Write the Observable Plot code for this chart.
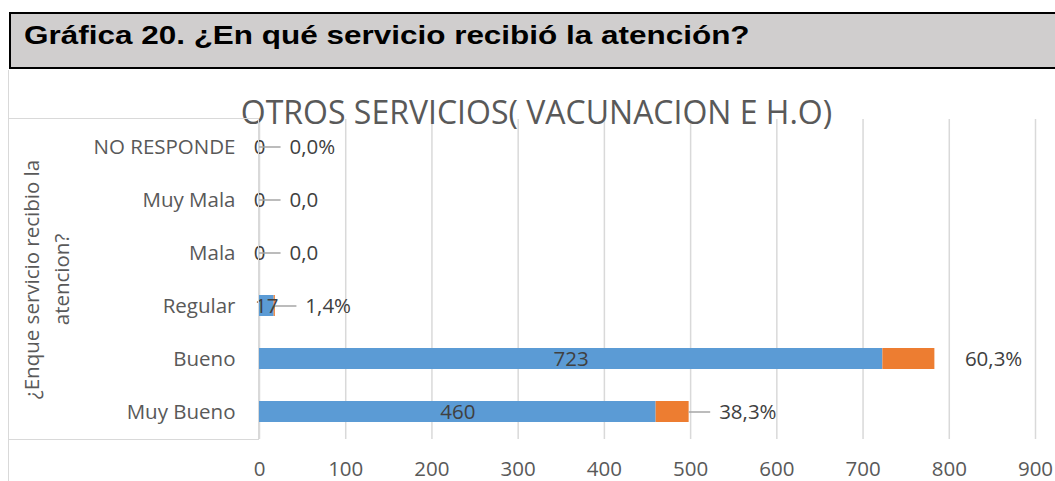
<!DOCTYPE html>
<html><head><meta charset="utf-8">
<script src="https://cdn.jsdelivr.net/npm/d3@7"></script>
<script src="https://cdn.jsdelivr.net/npm/@observablehq/plot@0.6"></script>
<style>
body{margin:0;background:#fff;}
#wrap{position:relative;width:1055px;height:481px;overflow:hidden;background:#fff;}
#titlebox{position:absolute;left:9px;top:12px;width:1070px;height:53px;background:#d0cece;border:2.5px solid #000;}
#titletext{position:absolute;left:13px;top:8px;font:bold 26px "Liberation Sans",Arial,sans-serif;line-height:26px;color:#000;transform:scaleX(1.21);transform-origin:left center;white-space:nowrap;}
#chart{position:absolute;left:0;top:70px;}
#leftline{position:absolute;left:8px;top:70px;width:0;height:420px;border-left:1.5px solid #d9d9d9;}
#box{position:absolute;left:9px;top:118px;width:249px;height:320px;border-top:1.5px solid #d9d9d9;border-bottom:1.5px solid #d9d9d9;border-right:1.5px solid #d9d9d9;}
</style>
</head><body>
<div id="wrap">
  <div id="leftline"></div>
  <div id="chart"></div>
  <div id="box"></div>
  <div id="titlebox"><div id="titletext"></div></div>
</div>
<script>
const pageTitle = "Gráfica 20. ¿En qué servicio recibió la atención?";
const chartTitle = "OTROS SERVICIOS( VACUNACION E H.O)";
const yTitle = "¿Enque servicio recibio la\natencion?";
const categories = ["NO RESPONDE", "Muy Mala", "Mala", "Regular", "Bueno", "Muy Bueno"];
const counts = [0, 0, 0, 17, 723, 460];
const percents = [0.0, 0.0, 0.0, 1.4, 60.3, 38.3];
const percentLabels = ["0,0%", "0,0", "0,0", "1,4%", "60,3%", "38,3%"];
const xTicks = [0, 100, 200, 300, 400, 500, 600, 700, 800, 900];
const seriesNames = ["Cantidad", "Porcentaje"];
const seriesColors = ["#5b9bd5", "#ed7d31"];

document.getElementById("titletext").textContent = pageTitle;

const rows = categories.map((c, i) => ({
  cat: c, count: counts[i], pct: percents[i], pctLabel: percentLabels[i], total: counts[i] + percents[i]
}));
const long = rows.flatMap(r => [
  {cat: r.cat, series: seriesNames[0], value: r.count},
  {cat: r.cat, series: seriesNames[1], value: r.pct}
]);

const chart = Plot.plot({
  width: 1055, height: 411,
  marginLeft: 259, marginRight: 20, marginTop: 49, marginBottom: 42,
  style: {fontFamily: "'Open Sans', sans-serif", fontSize: "20.5px", background: "transparent", overflow: "visible"},
  x: {domain: [0, 900]},
  y: {domain: categories, padding: 0},
  color: {domain: seriesNames, range: seriesColors},
  marks: [
    Plot.gridX(xTicks, {stroke: "#d9d9d9", strokeOpacity: 1, strokeWidth: 1.5}),
    Plot.axisX({ticks: xTicks, tickSize: 0, tickPadding: 22, label: null, fill: "#595959"}),
    Plot.axisY({tickSize: 0, tickPadding: 24, label: null, fill: "#595959"}),
    Plot.barX(long, Plot.stackX({y: "cat", x: "value", fill: "series", insetTop: 16, insetBottom: 16})),
    Plot.text(rows, {x: d => d.count / 2, y: "cat", text: d => String(d.count), fill: "#404040"}),
    Plot.ruleY(rows.filter(d => d.cat !== "Bueno"), {y: "cat", x1: "total", x2: d => d.total + 25, stroke: "#a6a6a6", strokeWidth: 1.5}),
    Plot.text(rows, {x: "total", y: "cat", text: "pctLabel", textAnchor: "start", dx: 30, fill: "#404040"}),
    Plot.text([yTitle], {frameAnchor: "left", textAnchor: "middle", lineAnchor: "middle", rotate: -90, dx: -215, lineHeight: 1.45, fill: "#595959"}),
    Plot.text([chartTitle], {frameAnchor: "top", lineAnchor: "top", dx: -111, dy: -18, fontSize: 32, fill: "#595959"})
  ]
});
document.getElementById("chart").appendChild(chart);
</script>
</body></html>
